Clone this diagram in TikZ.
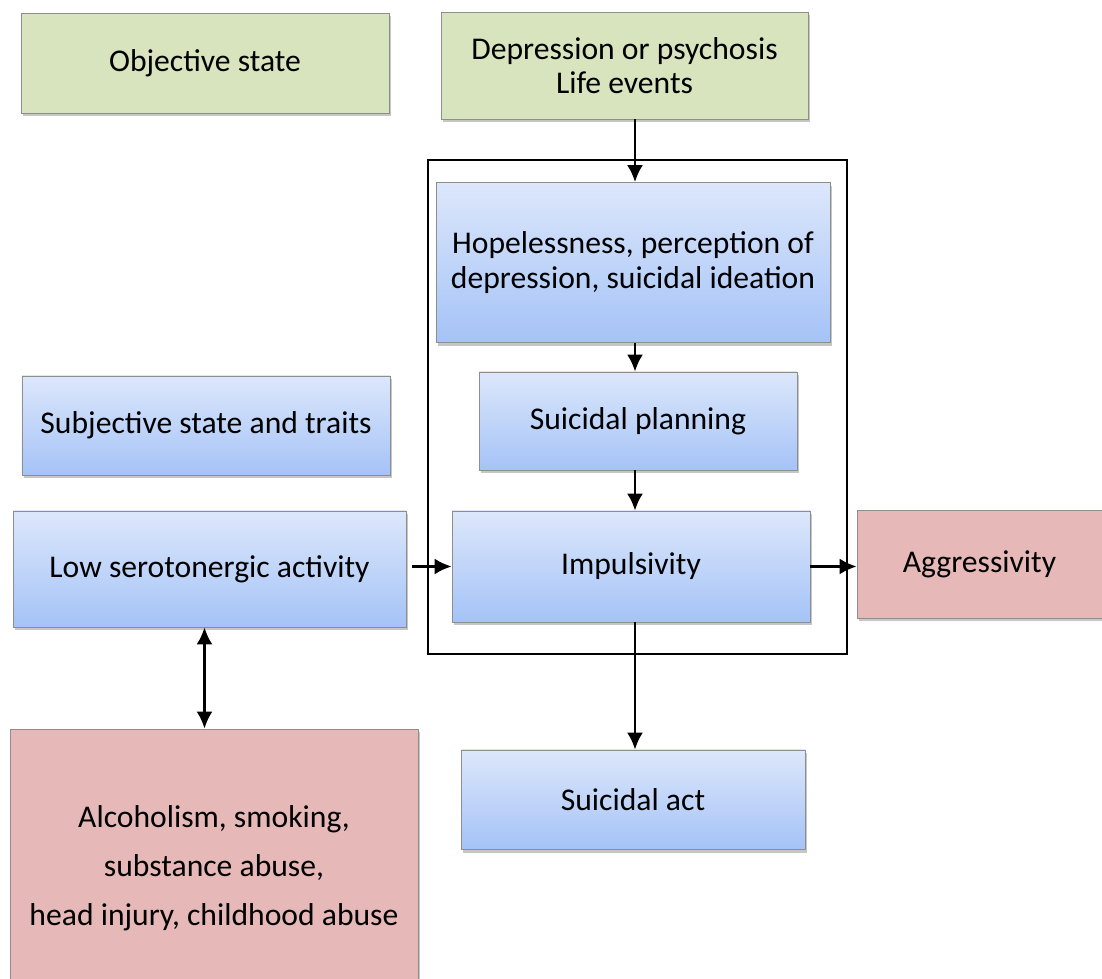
\documentclass[tikz,border=0pt]{standalone}
\usepackage{fontspec}
\setmainfont{Carlito}
\usetikzlibrary{shadows,arrows.meta,calc}
\tikzset{>={Latex[length=0.34cm,width=0.32cm]}}

\definecolor{greenfill}{HTML}{D7E4BD}
\definecolor{redfill}{HTML}{E6B9B8}
\definecolor{bluetop}{HTML}{DCE7FB}
\definecolor{bluebot}{HTML}{A5C3F7}
\definecolor{boxline}{HTML}{8E8E8E}

\begin{document}
\begin{tikzpicture}[font=\fontsize{18}{19.5}\selectfont]

%% styles
\tikzstyle{plain}=[draw=boxline, text centered, inner sep=2pt,
  drop shadow={shadow xshift=0.04cm, shadow yshift=-0.07cm, opacity=0.45}]

\tikzstyle{greenbox}=[style = plain, fill=greenfill]

\tikzstyle{bluebox}=[style = plain, top color=bluetop, bottom color=bluebot]

\tikzstyle{redbox}=[style = plain, fill=redfill]

\tikzstyle{link}=[draw, line width=1.5pt]

\useasboundingbox (0, 0) rectangle (22.04, -19.58);

%% top row
\node(Obj)[style = greenbox, minimum width=7.36cm, minimum height=2cm] at (4.10, -1.26)
{
Objective state
};

\node(Dep)[style = greenbox, align=center, minimum width=7.34cm, minimum height=2.14cm] at (12.49, -1.31)
{
Depression or psychosis\\ Life events
};

%% frame
\draw[line width=1.4pt] (8.56, -3.2) rectangle (16.94, -13.08);

%% blue blocks
\node(Hop)[style = bluebox, align=center, minimum width=7.88cm, minimum height=3.2cm] at (12.66, -5.25)
{
Hopelessness, perception of\\ depression, suicidal ideation
};

\node(Plan)[style = bluebox, minimum width=6.36cm, minimum height=1.96cm] at (12.76, -8.42)
{
Suicidal planning
};

\node(Imp)[style = bluebox, minimum width=7.16cm, minimum height=2.22cm] at (12.62, -11.33)
{
Impulsivity
};

\node(Subj)[style = bluebox, minimum width=7.36cm, minimum height=1.98cm] at (4.12, -8.51)
{
Subjective state and traits
};

\node(Low)[style = bluebox, minimum width=7.86cm, minimum height=2.32cm] at (4.19, -11.38)
{
Low serotonergic activity
};

\node(Act)[style = bluebox, minimum width=6.88cm, minimum height=1.98cm] at (12.66, -15.99)
{
Suicidal act
};

%% red blocks
\node(Agg)[style = redbox, minimum width=4.9cm, minimum height=2.16cm] at (19.59, -11.28)
{
Aggressivity
};

\node(Alc)[style = redbox, align=center, minimum width=8.16cm, minimum height=5.56cm] at (4.28, -17.36)
{
Alcoholism, smoking,\\[8.5pt] substance abuse,\\[8.5pt] head injury, childhood abuse
};

%% arrows

\path [link, ->] ($(Hop.north |- Dep.south)+(0.04,0)$) -- ($(Hop.north)+(0.04,0)$);

\path [link, ->] ($(Hop.south)+(0.04,0)$) -- ($(Hop.south |- Plan.north)+(0.04,0)$);

\path [link, ->] ($(Hop.south |- Plan.south)+(0.04,0)$) -- ($(Hop.south |- Imp.north)+(0.04,0)$);

\path [link, ->] ($(Hop.south |- Imp.south)+(0.04,0)$) -- ($(Hop.south |- Act.north)+(0.04,0)$);

\path [link, ->] ($(Low.east |- Imp.west)+(0.12,0)$) -- (Imp.west);

\path [link, ->] (Imp.east) -- (Imp.east -| Agg.west);

\path [link, <->] ($(Low.south)+(-0.1,0)$) -- ($(Low.south |- Alc.north)+(-0.1,0)$);

\end{tikzpicture}
\end{document}
